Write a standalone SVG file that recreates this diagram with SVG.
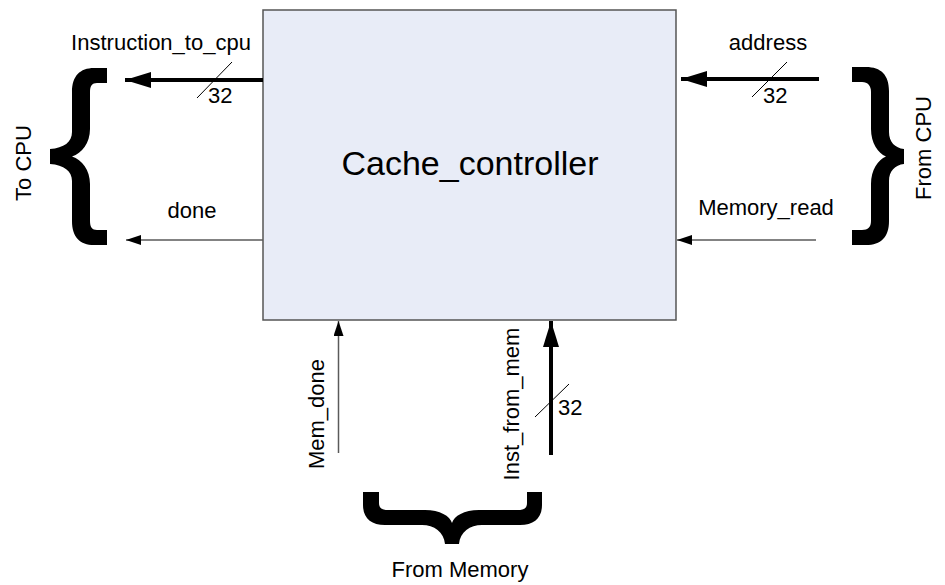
<svg xmlns="http://www.w3.org/2000/svg" width="945" height="585" viewBox="0 0 945 585">
  <defs>
    <style>
      text { font-family: "Liberation Sans", Arial, sans-serif; fill: #000; }
      .lbl { font-size: 22px; }
      .mid { text-anchor: middle; }
      .title { font-size: 34px; text-anchor: middle; }
      .bus { stroke: #000; stroke-width: 4; fill: none; }
      .sig { stroke: #5a5a5a; stroke-width: 1.5; fill: none; }
      .tick { stroke: #000; stroke-width: 1; fill: none; }
      .brace { fill: #000; }
    </style>
    <marker id="busHead" viewBox="0 0 26 16" refX="26" refY="8" markerWidth="26" markerHeight="16" markerUnits="userSpaceOnUse" orient="auto">
      <path d="M0,0 L26,8 L0,16 Z" fill="#000"/>
    </marker>
    <marker id="sigHead" viewBox="0 0 15 10" refX="15" refY="5" markerWidth="15" markerHeight="10" markerUnits="userSpaceOnUse" orient="auto">
      <path d="M0,0 L15,5 L0,10 Z" fill="#000"/>
    </marker>
  </defs>

  <rect width="945" height="585" fill="#fff"/>

  <!-- Controller block -->
  <g id="cache_controller">
    <rect x="263" y="10" width="413" height="310" fill="#e8ecf7" stroke="#555" stroke-width="1.5"/>
    <text class="title" x="470" y="175">Cache_controller</text>
  </g>

  <!-- Signals -->
  <g id="connectors">
    <!-- Instruction_to_cpu (bus, 32 bits) -->
    <line class="bus" x1="263" y1="80" x2="125" y2="80" marker-end="url(#busHead)"/>
    <line class="tick" x1="197" y1="98" x2="232" y2="62"/>
    <!-- done -->
    <line class="sig" x1="263" y1="240" x2="126" y2="240" marker-end="url(#sigHead)"/>
    <!-- address (bus, 32 bits) -->
    <line class="bus" x1="819" y1="79" x2="681" y2="79" marker-end="url(#busHead)"/>
    <line class="tick" x1="752" y1="97" x2="787" y2="62"/>
    <!-- Memory_read -->
    <line class="sig" x1="816" y1="240" x2="677" y2="240" marker-end="url(#sigHead)"/>
    <!-- Mem_done -->
    <line class="sig" x1="338.5" y1="453" x2="338.5" y2="321" marker-end="url(#sigHead)"/>
    <!-- Inst_from_mem (bus, 32 bits) -->
    <line class="bus" x1="551" y1="455" x2="551" y2="321" marker-end="url(#busHead)"/>
    <line class="tick" x1="535" y1="417" x2="569" y2="384"/>
  </g>

  <!-- Signal labels -->
  <g id="labels">
    <text class="lbl mid" x="161" y="50">Instruction_to_cpu</text>
    <text class="lbl" x="208" y="103">32</text>
    <text class="lbl mid" x="192" y="218">done</text>
    <text class="lbl mid" x="768" y="50">address</text>
    <text class="lbl" x="763" y="103">32</text>
    <text class="lbl mid" x="766" y="215">Memory_read</text>
    <text class="lbl mid" transform="translate(323.5,414) rotate(-90)">Mem_done</text>
    <text class="lbl mid" transform="translate(519,404) rotate(-90)">Inst_from_mem</text>
    <text class="lbl" x="558" y="415">32</text>
  </g>

  <!-- Group braces -->
  <g id="to_cpu">
    <path class="brace" d="M107,68 H94 C80,68 72,76 72,92 V132 C72,142 64,148 50,149 V164 C64,165 72,171 72,181 V221 C72,237 80,245 94,245 H107 V230 H97 C92,230 90,227 90,221 V184 C90,170 82,160 72,156.5 C82,153 90,143 90,129 V92 C90,86 92,83 97,83 H107 Z"/>
    <text class="lbl mid" transform="translate(31,163) rotate(-90)">To CPU</text>
  </g>
  <g id="from_cpu">
    <path class="brace" d="M852,67 H866 C881,67 889,75 889,91 V132 C889,142 895,148 904,149 V164 C895,165 889,171 889,181 V221 C889,237 881,245 866,245 H852 V230 H862 C868,230 871,227 871,221 V184 C871,170 878,160 886,156.5 C878,153 871,143 871,129 V92 C871,86 868,82 862,82 H852 Z"/>
    <text class="lbl mid" transform="translate(931,148) rotate(-90)">From CPU</text>
  </g>
  <g id="from_memory">
    <path class="brace" d="M363,492 H379 V503 C379,508 382,510 388,510 H425 C440,510 450,516 452,523 C454,516 464,510 479,510 H518 C524,510 527,508 527,503 V492 H542 V505 C542,518 534,525 520,525 H482 C470,525 460,532 459,544 H445 C444,532 434,525 422,525 H385 C371,525 363,518 363,505 Z"/>
    <text class="lbl mid" x="460" y="577">From Memory</text>
  </g>
</svg>
